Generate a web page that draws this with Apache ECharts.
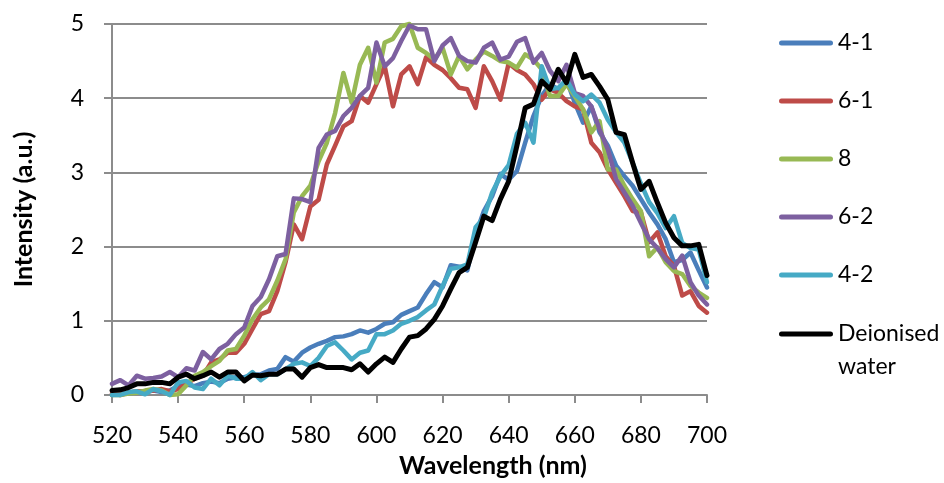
<!DOCTYPE html>
<html>
<head>
<meta charset="utf-8">
<script src="https://cdn.jsdelivr.net/npm/echarts@6/dist/echarts.min.js"></script>
<style>
  html, body { margin: 0; padding: 0; background: #ffffff; }
  #chart { width: 944px; height: 483px; }
</style>
</head>
<body>
<div id="chart"></div>
<script>
// Emission spectra: intensity (a.u.) against wavelength (nm)
const wavelengths = [
  520, 522.5, 525, 527.5, 530, 532.5, 535, 537.5, 540, 542.5,
  545, 547.5, 550, 552.5, 555, 557.5, 560, 562.5, 565, 567.5,
  570, 572.5, 575, 577.5, 580, 582.5, 585, 587.5, 590, 592.5,
  595, 597.5, 600, 602.5, 605, 607.5, 610, 612.5, 615, 617.5,
  620, 622.5, 625, 627.5, 630, 632.5, 635, 637.5, 640, 642.5,
  645, 647.5, 650, 652.5, 655, 657.5, 660, 662.5, 665, 667.5,
  670, 672.5, 675, 677.5, 680, 682.5, 685, 687.5, 690, 692.5,
  695, 697.5, 700
];

const sample41 = [
  0.00, 0.02, 0.02, 0.04, 0.05, 0.06, 0.04, 0.06, 0.12, 0.14,
  0.12, 0.16, 0.18, 0.16, 0.22, 0.24, 0.24, 0.27, 0.28, 0.33,
  0.35, 0.51, 0.45, 0.57, 0.64, 0.69, 0.73, 0.78, 0.79, 0.82,
  0.87, 0.84, 0.89, 0.96, 0.98, 1.08, 1.13, 1.18, 1.36, 1.52,
  1.45, 1.75, 1.73, 1.68, 2.16, 2.48, 2.68, 2.98, 2.90, 3.02,
  3.40, 3.76, 4.03, 4.19, 4.12, 4.25, 3.94, 3.67, 3.89, 3.54,
  3.36, 3.09, 2.95, 2.82, 2.64, 2.46, 2.30, 2.10, 1.79, 1.82,
  1.92, 1.68, 1.45
];

const sample61 = [
  0.02, 0.00, 0.03, 0.05, 0.04, 0.06, 0.08, 0.05, 0.08, 0.15,
  0.22, 0.26, 0.44, 0.48, 0.57, 0.57, 0.69, 0.89, 1.09, 1.13,
  1.40, 1.79, 2.30, 2.10, 2.54, 2.63, 3.11, 3.36, 3.62, 3.69,
  4.03, 3.94, 4.19, 4.43, 3.89, 4.32, 4.43, 4.19, 4.55, 4.45,
  4.38, 4.27, 4.14, 4.12, 3.87, 4.43, 4.23, 3.98, 4.47, 4.38,
  4.32, 4.19, 3.98, 4.12, 4.07, 3.96, 3.89, 3.85, 3.40, 3.27,
  3.04, 2.86, 2.68, 2.48, 2.46, 2.06, 2.19, 1.87, 1.74, 1.34,
  1.40, 1.20, 1.11
];

const sample8 = [
  0.00, 0.00, 0.02, 0.03, 0.06, 0.08, 0.06, 0.00, 0.01, 0.13,
  0.26, 0.31, 0.39, 0.46, 0.60, 0.62, 0.80, 1.02, 1.18, 1.29,
  1.54, 1.83, 2.46, 2.68, 2.82, 3.15, 3.40, 3.80, 4.34, 3.94,
  4.45, 4.68, 4.21, 4.75, 4.80, 4.97, 5.00, 4.68, 4.61, 4.52,
  4.68, 4.32, 4.57, 4.39, 4.52, 4.63, 4.57, 4.50, 4.48, 4.41,
  4.59, 4.52, 4.39, 4.03, 4.03, 4.19, 4.03, 3.85, 3.54, 3.69,
  3.04, 3.04, 2.82, 2.64, 2.48, 1.87, 1.99, 1.79, 1.67, 1.63,
  1.47, 1.38, 1.31
];

const sample62 = [
  0.15, 0.20, 0.13, 0.26, 0.22, 0.23, 0.25, 0.31, 0.24, 0.36,
  0.33, 0.58, 0.48, 0.62, 0.69, 0.82, 0.91, 1.20, 1.32, 1.56,
  1.87, 1.90, 2.65, 2.64, 2.60, 3.33, 3.51, 3.56, 3.76, 3.87,
  4.03, 4.14, 4.75, 4.43, 4.54, 4.77, 4.98, 4.93, 4.93, 4.50,
  4.71, 4.81, 4.57, 4.50, 4.48, 4.68, 4.75, 4.52, 4.56, 4.76,
  4.81, 4.48, 4.61, 4.37, 4.23, 4.45, 4.07, 4.03, 3.89, 3.58,
  3.31, 2.91, 2.73, 2.55, 2.32, 2.10, 1.98, 1.83, 1.72, 1.88,
  1.52, 1.34, 1.22
];

const sample42 = [
  0.00, 0.00, 0.04, 0.05, 0.01, 0.08, 0.05, 0.00, 0.17, 0.19,
  0.10, 0.08, 0.22, 0.13, 0.26, 0.22, 0.22, 0.31, 0.20, 0.28,
  0.28, 0.35, 0.42, 0.44, 0.39, 0.50, 0.66, 0.71, 0.60, 0.48,
  0.57, 0.60, 0.82, 0.82, 0.87, 0.96, 1.00, 1.05, 1.14, 1.22,
  1.47, 1.70, 1.72, 1.76, 2.26, 2.39, 2.73, 2.95, 3.10, 3.52,
  3.67, 3.40, 4.43, 4.12, 4.14, 4.25, 4.05, 3.96, 4.05, 3.94,
  3.71, 3.54, 3.40, 3.13, 2.85, 2.60, 2.45, 2.25, 2.41, 2.05,
  1.98, 1.96, 1.52
];

const deionisedWater = [
  0.06, 0.07, 0.10, 0.15, 0.15, 0.17, 0.17, 0.15, 0.24, 0.28,
  0.22, 0.26, 0.31, 0.24, 0.31, 0.31, 0.19, 0.27, 0.26, 0.28,
  0.28, 0.35, 0.35, 0.24, 0.37, 0.41, 0.37, 0.37, 0.37, 0.34,
  0.42, 0.31, 0.42, 0.51, 0.44, 0.62, 0.78, 0.80, 0.89, 1.02,
  1.20, 1.43, 1.65, 1.72, 2.06, 2.41, 2.35, 2.64, 2.88, 3.36,
  3.87, 3.92, 4.23, 4.12, 4.39, 4.21, 4.59, 4.28, 4.32, 4.16,
  3.98, 3.54, 3.51, 3.13, 2.77, 2.88, 2.59, 2.32, 2.12, 2.01,
  2.01, 2.03, 1.61
];

const seriesNames = ['4-1', '6-1', '8', '6-2', '4-2', 'Deionised\nwater'];
const seriesValues = [sample41, sample61, sample8, sample62, sample42, deionisedWater];
const seriesColors = ['#4A7EBB', '#BE4B48', '#98B954', '#7D60A0', '#46AAC5', '#000000'];
const lineWidths = [4.5, 4.5, 4.5, 4.5, 4.5, 5];

const FONT = 'Lato, "Open Sans", sans-serif';
const AXIS_GREY = '#8c8c8c';

// Rounded legend swatch, 54 x 5
const SWATCH = 'path://M2.5,0 L51.5,0 A2.5,2.5 0 0 1 51.5,5 L2.5,5 A2.5,2.5 0 0 1 2.5,0 Z';
// Same swatch sitting on the first of two text lines (box 54 x 66)
const SWATCH_TWO_LINES = 'path://M27,0 L27.01,0 L27.01,0.01 L27,0.01 Z ' +
  'M2.5,14 L51.5,14 A2.5,2.5 0 0 1 51.5,19 L2.5,19 A2.5,2.5 0 0 1 2.5,14 Z ' +
  'M27,65.99 L27.01,65.99 L27.01,66 L27,66 Z';

const chart = echarts.init(document.getElementById('chart'), null, { renderer: 'canvas' });

const series = seriesNames.map((name, k) => ({
  name: name,
  type: 'line',
  data: wavelengths.map((w, i) => [w, seriesValues[k][i]]),
  showSymbol: false,
  symbol: 'none',
  clip: false,
  animation: false,
  color: seriesColors[k],
  lineStyle: { width: lineWidths[k], color: seriesColors[k], cap: 'round', join: 'round' }
}));

chart.setOption({
  backgroundColor: '#ffffff',
  animation: false,
  grid: { left: 112, right: 237, top: 24, bottom: 87, containLabel: false },
  xAxis: {
    type: 'value',
    min: 520,
    max: 700,
    interval: 20,
    name: 'Wavelength (nm)',
    nameLocation: 'middle',
    nameGap: 58,
    nameTextStyle: { fontFamily: FONT, fontSize: 25, fontWeight: 'bold', color: '#000', padding: [0, 0, 0, 167] },
    axisLine: { show: true, onZero: false, lineStyle: { color: AXIS_GREY, width: 2 } },
    axisTick: { show: true, length: 8, inside: false, lineStyle: { color: AXIS_GREY, width: 2 } },
    axisLabel: { margin: 29, fontFamily: FONT, fontSize: 23, color: '#000' },
    splitLine: { show: false }
  },
  yAxis: {
    type: 'value',
    min: 0,
    max: 5,
    interval: 1,
    name: 'Intensity (a.u.)',
    nameLocation: 'middle',
    nameGap: 76,
    nameTextStyle: { fontFamily: FONT, fontSize: 25, fontWeight: 'bold', color: '#000' },
    axisLine: { show: true, lineStyle: { color: AXIS_GREY, width: 2 } },
    axisTick: { show: true, length: 8, inside: false, lineStyle: { color: AXIS_GREY, width: 2 } },
    axisLabel: { margin: 28, fontFamily: FONT, fontSize: 23, color: '#000' },
    splitLine: { show: true, lineStyle: { color: AXIS_GREY, width: 2 } }
  },
  legend: [
    {
      orient: 'vertical',
      left: 779,
      top: 31.5,
      padding: 0,
      itemWidth: 54,
      itemHeight: 5,
      itemGap: 35,
      icon: SWATCH,
      selectedMode: false,
      textStyle: { fontFamily: FONT, fontSize: 23, color: '#000', lineHeight: 23 },
      data: seriesNames.slice(0, 5).map((n, k) => ({ name: n, itemStyle: { color: seriesColors[k] } }))
    },
    {
      orient: 'vertical',
      left: 779,
      top: 317.5,
      padding: 0,
      itemWidth: 54,
      itemHeight: 66,
      icon: SWATCH_TWO_LINES,
      selectedMode: false,
      textStyle: { fontFamily: FONT, fontSize: 23, color: '#000', lineHeight: 33 },
      data: [{ name: seriesNames[5], itemStyle: { color: seriesColors[5] } }]
    }
  ],
  series: series
});
</script>
</body>
</html>
